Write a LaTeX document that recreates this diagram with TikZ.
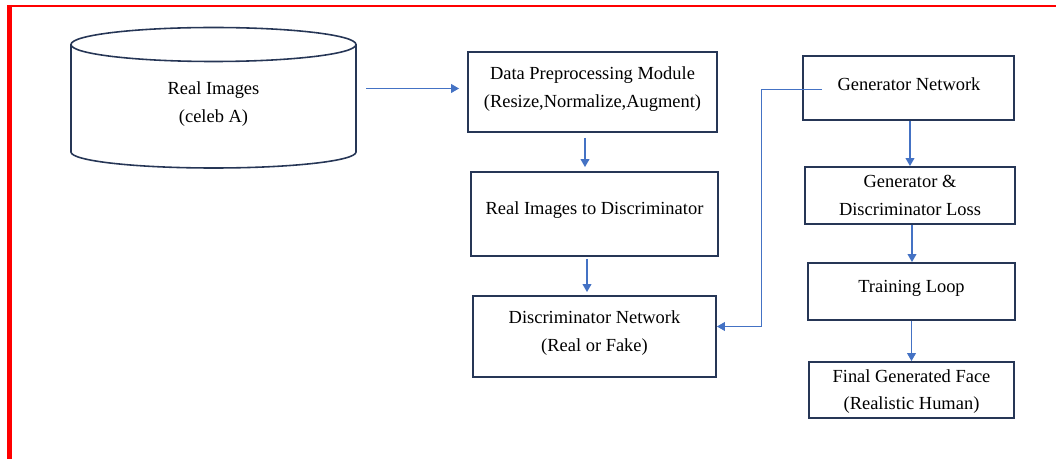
\documentclass[tikz,border=0pt]{standalone}
\usepackage{fontspec}
\setmainfont{Liberation Serif}
\usetikzlibrary{arrows.meta}
\definecolor{boxnavy}{RGB}{38,54,86}
\definecolor{flowblue}{RGB}{68,114,196}
\definecolor{framered}{RGB}{255,0,0}

\begin{document}
\begin{tikzpicture}[x=0.02cm, y=0.02cm, font=\fontsize{10.5}{15.8}\selectfont,
        blk/.style={draw=boxnavy, line width=1.1pt, inner sep=0pt},
        txt/.style={align=center, inner sep=0pt},
        flow/.style={draw=flowblue, line width=0.6pt, -{Triangle[length=4.5pt,width=5pt]}}]
            \useasboundingbox (0,0) rectangle (1056,-459);
            \draw[framered, line width=1.4pt] (8,-6.2) -- (1056,-6.2);
            \draw[framered, line width=2.3pt] (9.5,-5) -- (9.5,-459);
            \draw[boxnavy, line width=0.9pt] (213.5,-44.5) ellipse [x radius=142.5, y radius=17];
            \draw[boxnavy, line width=0.9pt] (71,-44.5) -- (71,-152) arc[start angle=180, end angle=360, x radius=142.5, y radius=16] -- (356,-44.5);
            \node[txt] (srctxt) at (213.5,-104) {Real Images\\(celeb A)};
            \coordinate (srcout) at (366,-88.5);
            \node[blk, minimum width=4.98cm, minimum height=1.6cm] (dp) at (592.5,-92) {};
            \node[blk, minimum width=4.94cm, minimum height=1.68cm] (ri) at (594.5,-214) {};
            \node[blk, minimum width=4.86cm, minimum height=1.62cm] (dn) at (594.5,-336.5) {};
            \node[blk, minimum width=4.22cm, minimum height=1.28cm] (gen) at (908.5,-88) {};
            \node[blk, minimum width=4.2cm, minimum height=1.14cm] (gdl) at (910,-195.5) {};
            \node[blk, minimum width=4.14cm, minimum height=1.14cm] (tl) at (911.5,-291.5) {};
            \node[blk, minimum width=4.1cm, minimum height=1.12cm] (fin) at (911.5,-390) {};
            \node[txt] (dptxt) at (592.5,-89) {Data Preprocessing Module\\(Resize,Normalize,Augment)};
            \node[txt] (ritxt) at (594.5,-210.5) {Real Images to Discriminator};
            \node[txt] (dntxt) at (594.5,-333) {Discriminator Network\\(Real or Fake)};
            \node[txt] (gentxt) at (909,-84.5) {Generator Network};
            \node[txt] (gdltxt) at (910,-195.5) {Generator \&\\Discriminator Loss};
            \node[txt] (tltxt) at (911.5,-288.5) {Training Loop};
            \node[txt] (fintxt) at (911.5,-391.5) {Final Generated Face\\(Realistic Human)};
            \coordinate (fbstart) at ([xshift=0.4cm]gen.west |- srcout);
            \draw[flow, shorten >=0.16cm] (srcout) -- (srcout -| dp.west);
            \draw[flow, shorten <=0.1cm, shorten >=0.08cm] ([xshift=-0.15cm]dp.south) -- ([xshift=-0.15cm]dp.south |- ri.north);
            \draw[flow, shorten <=0.04cm, shorten >=0.06cm] ([xshift=-0.15cm]ri.south) -- ([xshift=-0.15cm]ri.south |- dn.north);
            \draw[flow] ([xshift=0.03cm]gen.south) -- ([xshift=0.03cm]gen.south |- gdl.north);
            \draw[flow] ([xshift=0.04cm]gdl.south) -- ([xshift=0.04cm]gdl.south |- tl.north);
            \draw[flow] (tl.south) -- (tl.south |- fin.north);
            \draw[flow, line width=0.5pt] ([yshift=-0.02cm]fbstart) -- ++(-1.22cm,0) |- ([yshift=0.2cm]dn.east);
        \end{tikzpicture}
\end{document}
